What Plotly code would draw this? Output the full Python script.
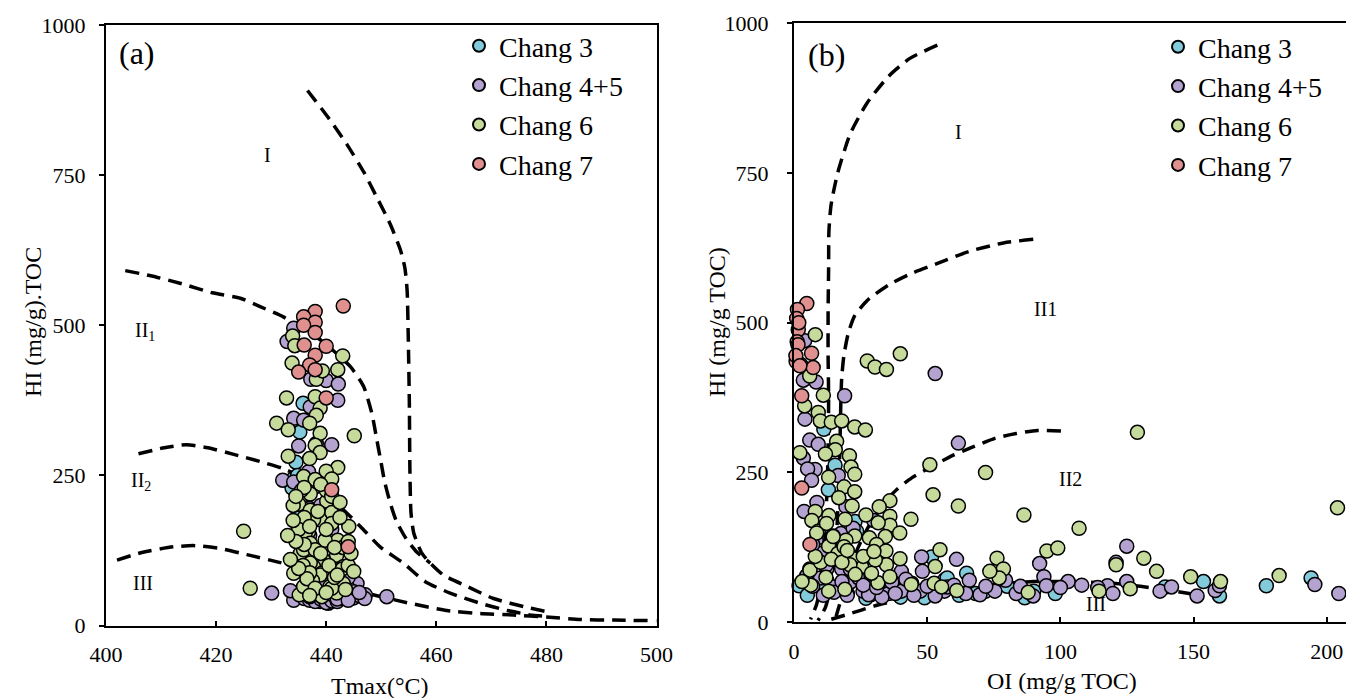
import plotly.graph_objects as go

FONT = "Liberation Serif"
series_names = ["Chang 3", "Chang 4+5", "Chang 6", "Chang 7"]
series_colors = ["#83CBDB", "#B4A3D0", "#C5DA9B", "#E0918F"]

# ---------------- Panel (a): Tmax vs HI ----------------
tmax_c3 = [435.8, 435.2, 434.5, 434.0, 433.8, 435.0, 435.4, 438.9, 440.4, 437.6, 434.8, 436.5]
hi_a_c3 = [370, 322, 272, 244, 229, 186, 170, 40, 37, 52, 250, 342]

tmax_c45 = [434.1, 432.9, 437.2, 440.0, 442.2, 442.1, 437.1, 434.1, 435.9, 438.2,
            441.0, 435.0, 432.1, 434.1, 436.8, 438.0, 430.1, 451.0, 447.1, 445.6,
            434.1, 444.4, 436.6, 436, 437, 438, 439, 440, 441, 442,
            443, 444, 445, 446, 438, 440, 442, 444, 436, 441,
            443, 439, 437, 439, 441, 440, 437, 438, 442, 444,
            440, 433.5, 445, 442, 444, 447, 446, 437]
hi_a_c45 = [495, 473, 410, 408, 402, 375, 364, 345, 342, 303,
            301, 299, 242, 239, 256, 231, 54, 48, 51, 70,
            42, 87, 196, 45, 42, 40, 44, 38, 41, 40,
            45, 48, 46, 50, 55, 58, 60, 62, 62, 52,
            52, 50, 195, 200, 160, 135, 150, 110, 100, 80,
            70, 58, 56, 44, 42, 45, 55, 48]

tmax_c6 = [443.0, 442.1, 433.8, 433.9, 434.3, 438.2, 439.3, 432.8, 438.0, 438.9,
           438.2, 431.0, 433.1, 437.0, 438.9, 445.1, 438.0, 438.9, 433.1, 437.0,
           442.1, 440.0, 441.0, 435.9, 438.0, 437.1, 440.1, 435.0, 437.1, 441.0,
           444.1, 438.9, 441.0, 437.7, 436.8, 440.0, 436.2, 437.1, 442.1, 439.8,
           425.0, 435.3, 441.9, 438.0, 439.5, 443.1, 437.7, 434.1, 439.2, 438.9,
           436.2, 440.7, 443.1, 426.2, 435.1, 438.9, 441.9, 435.9, 438.0, 437.1,
           442.9, 435.9, 441.0, 439.2, 435.5, 440.0, 434.0, 435.8, 441.5, 437.5,
           436.0, 439.0, 434.5, 441.0, 436.0, 438.5, 442.5, 435.0, 440.0, 437.0,
           443.0, 441.5, 436.0, 434.5, 440.5, 437.0, 442.0, 436.5, 444.0, 438.0,
           440.0, 443.5, 437.0, 435.0, 439.0, 433.5, 444.5, 445.0, 433.0, 444.0,
           442.5, 434.0]
hi_a_c6 = [449, 426, 437, 482, 466, 410, 424, 379, 381, 362,
           350, 337, 326, 337, 320, 316, 300, 288, 282, 278,
           263, 257, 244, 248, 243, 219, 207, 202, 192, 188,
           165, 176, 170, 176, 156, 145, 154, 137, 142, 142,
           157, 120, 117, 115, 109, 98, 98, 87, 87, 84,
           67, 65, 70, 62, 51, 51, 54, 126, 126, 104,
           94, 65, 62, 48, 225, 225, 200, 100, 80, 75,
           230, 235, 215, 215, 180, 190, 180, 160, 160, 165,
           130, 130, 135, 140, 100, 88, 84, 78, 100, 62,
           55, 60, 50, 95, 120, 110, 120, 90, 150, 140,
           205, 175]

tmax_c7 = [443.1, 438.0, 435.9, 438.0, 435.9, 438.0, 436.0, 440.0, 438.0, 437.0, 438.0, 435.0, 440.0, 441.0, 444.0]
hi_a_c7 = [532, 523, 514, 505, 500, 488, 467, 465, 450, 434, 426, 422, 379, 226, 131]

# boundary curves, panel (a)
a_I_x = [436.6, 440.6, 443.7, 446.9, 449.2, 451.6, 453.5, 454.3, 454.7, 454.9, 455.1, 455.2, 455.4, 455.9, 457.4, 458.9, 461.3, 465.6, 470.4, 476.5, 480.1]
a_I_y = [891, 843, 802, 754, 713, 669, 625, 595, 558, 484, 373, 262, 188, 154, 120, 104, 84, 65, 45, 30, 23]
a_II1_x = [403.5, 408.3, 413.8, 419.3, 424.4, 428.0, 432.2, 434.5, 438.0, 441.0, 444.4, 446.8, 448.3, 449.2, 449.9, 450.6, 451.6, 452.7, 454.5, 456.5, 458.9]
a_II1_y = [591, 582, 569, 554, 545, 531, 514, 501, 482, 460, 431, 398, 353, 309, 275, 240, 205, 175, 145, 122, 104]
a_II2_x = [405.9, 410.6, 414.6, 418.5, 423.2, 428.0, 432.0, 436.0, 439.5, 442.5, 446.2, 449.8, 454.0, 458.0, 462.5, 468.0, 472.9, 477.5, 480.5]
a_II2_y = [286, 296, 301, 296, 285, 273, 262, 245, 222, 198, 165, 131, 104, 73, 54, 37, 25, 17, 15]
a_III_x = [402.0, 406.7, 412.2, 416.1, 420.9, 425.6, 431.1, 434.0, 440.0, 447.0, 454.7, 461.9, 468.0, 474.0, 480.0, 486.2, 492.2, 500.0]
a_III_y = [109, 122, 131, 133, 128, 118, 106, 99, 80, 55, 38, 25, 20, 17.5, 14, 10, 9, 8]

# ---------------- Panel (b): OI vs HI ----------------
oi_c3 = [15.4, 12.9, 22.9, 21.6, 51.6, 64.8, 56.6, 11.2, 1.9, 28.8, 49.0, 86.6,
         98.1, 153.7, 159.7, 177.3, 194.1, 139.3, 57.5, 68.2, 23.5, 10.0, 35.0, 42.0,
         27.0, 33.0, 40.0, 62.0, 72.0, 80.0, 90.0, 5.0, 20.0]
hi_b_c3 = [262, 221, 168, 149, 109, 82, 71, 322, 61, 46, 41, 41,
           48, 68, 44, 61, 74, 59, 74, 48, 152, 60, 55, 60,
           40, 48, 42, 45, 52, 60, 52, 45, 48]

oi_c45 = [3.5, 8.3, 19.0, 53.0, 61.7, 4.1, 5.9, 9.1, 3.5, 7.9,
          5.1, 6.6, 16.6, 3.8, 8.6, 19.5, 17.6, 29.9, 14.7, 8.3,
          9.9, 22.2, 47.9, 61.0, 92.2, 124.9, 120.9, 102.9, 117.7, 119.7,
          124.9, 137.4, 141.7, 151.3, 158.1, 159.7, 195.5, 204.5, 93.8, 94.7,
          79.4, 83.4, 89.8, 69.8, 65.8, 64.5, 56.5, 48.2, 40.3, 44.2,
          40.3, 35.5, 30.7, 25.9, 21.1, 14.7, 9.9, 4.8, 12.3, 17.9,
          21.1, 24.3, 27.5, 36.7, 47.4, 53.0, 57.5, 75.4, 4.0, 2.5,
          10.0, 12.0, 7.0, 15.0, 20.0, 28.0, 33.0, 38.0, 45.0, 50.0,
          7.0, 5.0, 11.0, 18.0, 26.0, 31.0, 42.0, 60.0, 72.0, 85.0,
          100.0, 108.0, 114.0]
hi_b_c45 = [404, 401, 378, 415, 299, 339, 304, 297, 274, 255,
            256, 237, 245, 185, 200, 193, 148, 170, 144, 137,
            119, 157, 109, 105, 98, 127, 100, 68, 61, 48,
            68, 52, 59, 44, 53, 61, 63, 48, 76, 61,
            70, 48, 44, 46, 70, 48, 52, 85, 85, 65,
            52, 48, 53, 52, 67, 59, 74, 78, 89, 89,
            89, 74, 74, 67, 52, 44, 59, 52, 470, 430,
            115, 95, 130, 50, 45, 46, 42, 48, 45, 60,
            60, 68, 45, 68, 62, 58, 72, 62, 60, 60,
            58, 62, 58]

oi_c6 = [8.0, 5.9, 11.0, 4.0, 9.1, 9.9, 14.0, 17.9, 22.8, 26.8,
         2.2, 16.0, 15.5, 20.8, 11.8, 21.4, 22.8, 13.0, 18.8, 22.8,
         16.8, 21.8, 8.0, 6.7, 9.1, 19.2, 13.1, 12.2, 27.0, 22.8,
         19.5, 13.0, 16.5, 5.9, 6.3, 13.0, 19.1, 36.0, 32.0, 43.9,
         36.0, 36.0, 31.6, 39.7, 34.3, 28.3, 31.0, 34.5, 39.8, 34.7,
         30.5, 28.8, 25.4, 21.9, 21.0, 31.5, 36.0, 8.5, 14.7, 18.8,
         52.2, 51.0, 61.7, 54.8, 53.0, 52.6, 61.1, 76.2, 78.6, 77.0,
         73.5, 71.9, 86.3, 87.9, 94.9, 99.0, 107.0, 128.9, 131.3, 136.1,
         120.9, 114.5, 126.2, 148.9, 160.1, 182.1, 204.0, 27.5, 30.4, 34.7,
         39.9, 6.0, 29.1, 44.0, 55.4, 10.0, 14.0, 18.0, 8.0, 12.0,
         23.0, 26.0, 30.0, 3.0, 20.0]
hi_b_c6 = [480, 411, 379, 361, 350, 336, 334, 336, 326, 321,
           283, 302, 288, 278, 281, 259, 247, 242, 226, 218,
           208, 194, 185, 170, 152, 172, 178, 165, 179, 144,
           137, 127, 115, 89, 62, 52, 55, 203, 193, 172,
           177, 162, 166, 149, 143, 141, 130, 119, 106, 96,
           104, 81, 93, 107, 96, 66, 76, 149, 143, 126,
           213, 263, 194, 121, 93, 65, 53, 107, 89, 74,
           85, 250, 179, 50, 119, 124, 157, 317, 107, 85,
           96, 52, 56, 76, 68, 78, 191, 436, 426, 422,
           448, 87, 82, 63, 59, 100, 105, 100, 110, 75,
           80, 110, 118, 68, 120]

oi_c7 = [4.8, 1.3, 1.0, 1.6, 1.2, 6.6, 0.8, 7.2, 1.5, 2.9, 2.9, 6.0, 0.7, 1.8, 2.2]
hi_b_c7 = [532, 522, 507, 488, 468, 449, 435, 425, 463, 378, 224, 130, 445, 500, 428]

# boundary curves, panel (b)
b_I_x = [53.8, 43.5, 35.5, 27.5, 21.1, 16.3, 13.9, 13.1, 13.0, 12.8, 12.8, 13.0, 12.6, 11.6, 10.2, 8.5, 6.2]
b_I_y = [963, 941, 911, 867, 815, 748, 696, 652, 593, 519, 444, 370, 250, 140, 70, 30, 5]
b_II1_x = [89.8, 78.6, 65.8, 54.6, 43.5, 35.5, 27.5, 22.7, 20.3, 18.7, 17.9, 17.6, 17.0, 16.0, 14.2, 11.8, 9.0]
b_II1_y = [639, 633, 619, 600, 581, 563, 537, 511, 481, 444, 407, 370, 250, 150, 70, 25, 3]
b_II2_x = [100.2, 91.4, 83.4, 75.4, 67.4, 59.4, 51.4, 44.2, 38.7, 33.9, 30.7, 27.5, 23.5, 20.5, 18.5, 16.8, 15.8]
b_II2_y = [319, 320, 315, 307, 293, 278, 259, 241, 222, 200, 178, 156, 119, 80, 50, 25, 10]
b_III_x = [14, 20, 25, 30, 40, 50, 60, 70, 80, 90, 100, 110, 120, 130, 140, 150]
b_III_y = [5, 13, 20, 27, 38, 47, 55, 61, 65, 68, 68, 67, 65, 60, 54, 47]

# region labels
a_labels = ["I", "II<sub>1</sub>", "II<sub>2</sub>", "III"]
a_label_x = [429.3, 407.1, 406.4, 406.7]
a_label_y = [783, 490, 239, 71]
b_labels = ["I", "II1", "II2", "III"]
b_label_x = [61.9, 94.5, 103.9, 113.2]
b_label_y = [818, 523, 239, 31]

fig = go.Figure()

def add_curve(x, y, xa, ya):
    fig.add_trace(go.Scatter(x=x, y=y, mode="lines", xaxis=xa, yaxis=ya,
                             line=dict(color="black", width=3.5, dash="14px,8px",
                                       shape="spline", smoothing=0.6),
                             showlegend=False, hoverinfo="skip"))

for cx, cy in [(a_I_x, a_I_y), (a_II1_x, a_II1_y), (a_II2_x, a_II2_y), (a_III_x, a_III_y)]:
    add_curve(cx, cy, "x", "y")
for cx, cy in [(b_I_x, b_I_y), (b_II1_x, b_II1_y), (b_II2_x, b_II2_y), (b_III_x, b_III_y)]:
    add_curve(cx, cy, "x2", "y2")

a_data = [(tmax_c3, hi_a_c3), (tmax_c45, hi_a_c45), (tmax_c6, hi_a_c6), (tmax_c7, hi_a_c7)]
b_data = [(oi_c3, hi_b_c3), (oi_c45, hi_b_c45), (oi_c6, hi_b_c6), (oi_c7, hi_b_c7)]

for name, col, (xs, ys) in zip(series_names, series_colors, a_data):
    fig.add_trace(go.Scatter(x=xs, y=ys, mode="markers", name=name, xaxis="x", yaxis="y",
                             legend="legend", cliponaxis=False,
                             marker=dict(size=14, color=col, line=dict(color="black", width=1.5))))
for name, col, (xs, ys) in zip(series_names, series_colors, b_data):
    fig.add_trace(go.Scatter(x=xs, y=ys, mode="markers", name=name, xaxis="x2", yaxis="y2",
                             legend="legend2", cliponaxis=False,
                             marker=dict(size=14, color=col, line=dict(color="black", width=1.5))))

W, H = 1346, 698
tickfont = dict(family=FONT, size=22, color="black")
common = dict(showgrid=False, zeroline=False, showline=True, linecolor="black", linewidth=2,
              tickfont=tickfont, tickcolor="black", tickwidth=1.5, ticklen=5, automargin=False)

def px(xp):
    return xp / W

def py(yp):
    return (H - yp) / H

def ann(text, x, y, xref, yref, size, angle=0):
    return dict(text=text, x=x, y=y, xref=xref, yref=yref, showarrow=False,
                xanchor="center", yanchor="middle", textangle=angle,
                font=dict(family=FONT, size=size, color="black"))

annotations = []
for t, x, y in zip(a_labels, a_label_x, a_label_y):
    annotations.append(ann(t, x, y, "x", "y", 20))
for t, x, y in zip(b_labels, b_label_x, b_label_y):
    annotations.append(ann(t, x, y, "x2", "y2", 20))

annotations += [
    ann("(a)", px(137), py(53), "paper", "paper", 32),
    ann("(b)", px(826), py(55), "paper", "paper", 32),
    ann("Tmax(°C)", px(380), py(686), "paper", "paper", 24),
    ann("OI (mg/g TOC)", px(1062), py(681), "paper", "paper", 24),
    ann("HI (mg/g).TOC", px(33), py(322), "paper", "paper", 24, -90),
    ann("HI (mg/g TOC)", px(717), py(322), "paper", "paper", 24, -90),
]

legend_common = dict(xanchor="left", yanchor="top", bgcolor="rgba(0,0,0,0)",
                     font=dict(family=FONT, size=28, color="black"),
                     itemsizing="constant", tracegroupgap=0)

fig.update_layout(
    width=W, height=H,
    margin=dict(l=0, r=0, t=0, b=0, autoexpand=False),
    paper_bgcolor="white", plot_bgcolor="white",
    font=dict(family=FONT, color="black"),
    xaxis=dict(domain=[px(106), px(656.5)], range=[400, 500], tick0=400, dtick=20,
               ticks="inside", mirror=True, anchor="y", ticklabelstandoff=8, **common),
    yaxis=dict(domain=[py(625.5), py(25)], range=[0, 1000], dtick=250,
               ticks="outside", mirror=True, anchor="x", ticklabelstandoff=9, **common),
    xaxis2=dict(domain=[px(794), 1.0], range=[0, 207.2], tick0=0, dtick=50,
                ticks="inside", mirror=True, anchor="y2", ticklabelstandoff=8, **common),
    yaxis2=dict(domain=[py(622.3), py(23)], range=[0, 1000], dtick=250,
                ticks="outside", mirror=False, anchor="x2", ticklabelstandoff=14, **common),
    legend=dict(x=px(459), y=py(21), **legend_common),
    legend2=dict(x=px(1158), y=py(22), **legend_common),
    annotations=annotations,
    showlegend=True,
)

fig.write_html("out.html",
               config={"displayModeBar": False},
               post_script="document.body.style.margin='0';document.body.style.overflow='hidden';")
